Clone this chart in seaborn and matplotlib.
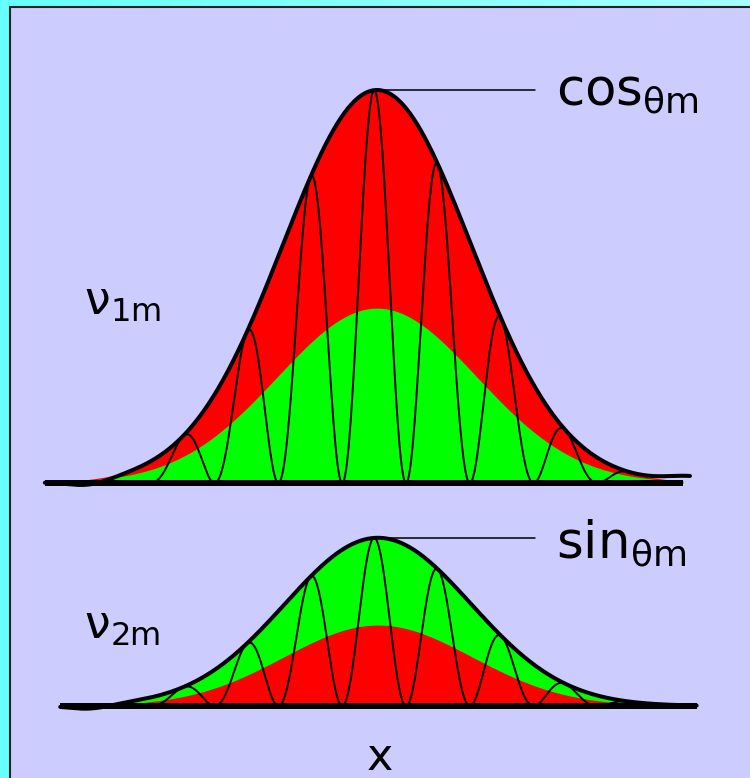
import numpy as np
import matplotlib
matplotlib.use("Agg")
import matplotlib.pyplot as plt
from matplotlib.patches import Rectangle
import seaborn as sns

# --- DATA (heights relative to the top envelope peak, x in units of envelope width) ---
outer_peak = [1.00, 0.428]      # cos(theta_m) and sin(theta_m) envelopes
inner_peak = [0.445, 0.206]     # inner envelopes
outer_width = [0.98, 0.97]
inner_width = [1.04, 0.98]
peak_pos = [0.0, 0.01]
outer_colors = ["#ff0000", "#00ff00"]
inner_colors = ["#00ff00", "#ff0000"]
line_start = [-3.46, -3.30]
line_end = [3.26, 3.33]
axis_end = [3.19, 3.33]
tail_dip = [-0.013, -0.010]     # little hand-drawn dip left of the envelope
tail_lift = [0.014, 0.0]        # and the lift on the right
osc_period = 0.665
osc_phase = -0.03
osc_start = [-2.36, -2.3]
osc_end = [2.6, 2.6]
left_labels = [r"$\nu_{\mathrm{1m}}$", r"$\nu_{\mathrm{2m}}$"]
right_labels = [r"$\mathrm{cos}_{\theta\mathrm{m}}$", r"$\mathrm{sin}_{\theta\mathrm{m}}$"]
x_label = "x"

# --- STYLE ---
sns.set_theme(style="white")
plt.rcParams["font.family"] = ["DejaVu Sans"]
plt.rcParams["mathtext.fontset"] = "dejavusans"
plt.rcParams["mathtext.default"] = "regular"
plt.rcParams["text.color"] = "black"

W, H = 750, 778
fig = plt.figure(figsize=(W / 100, H / 100), dpi=100, facecolor="#66ffff")

# background: cyan frame with a lighter top strip and the lavender panel
bg = fig.add_axes([0, 0, 1, 1], zorder=-2)
grad = np.linspace(0, 1, 256)[None, :]
bg.imshow(grad, extent=[0, 1, 0, 1], aspect="auto",
          cmap=matplotlib.colors.LinearSegmentedColormap.from_list("c", ["#66ffff", "#a8ffff"]))
bg.set_xlim(0, 1)
bg.set_ylim(0, 1)
bg.axis("off")
bg.add_patch(Rectangle((10 / W, -0.05), 1.0, (H - 7) / H + 0.05, facecolor="#ccccff",
                       edgecolor="#222222", lw=1.5, transform=bg.transAxes, zorder=2))

# two panels sharing the same scale (393 px per unit height, 96 px per unit width)
xlim = (-377 / 96, 373 / 96)
ax_top = fig.add_axes([0, 0.30341, 1, 0.60617])
ax_top.set_ylim(-0.15, 1.05)
ax_bot = fig.add_axes([0, 0.016774, 1, 0.3536])
ax_bot.set_ylim(-0.15, 0.55)

for i, ax in enumerate([ax_top, ax_bot]):
    ax.set_xlim(*xlim)
    ax.patch.set_alpha(0)
    ax.axis("off")

    x = np.linspace(line_start[i], line_end[i], 1600)
    env = outer_peak[i] * np.exp(-0.5 * ((x - peak_pos[i]) / outer_width[i]) ** 2)
    inner = inner_peak[i] * np.exp(-0.5 * ((x - peak_pos[i]) / inner_width[i]) ** 2)

    xf = x[x <= axis_end[i]]
    ax.fill_between(xf, 0, env[x <= axis_end[i]], color=outer_colors[i], lw=0, zorder=1)
    ax.fill_between(xf, 0, inner[x <= axis_end[i]], color=inner_colors[i], lw=0, zorder=1)

    # oscillating probability under the envelope
    xo = np.linspace(osc_start[i], osc_end[i], 2000)
    env_o = outer_peak[i] * np.exp(-0.5 * ((xo - peak_pos[i]) / outer_width[i]) ** 2)
    osc = env_o * np.cos(np.pi * (xo - osc_phase) / osc_period) ** 2
    sns.lineplot(x=xo, y=osc, ax=ax, color="black", lw=1.4, zorder=2)

    # envelope outline
    env_line = (env + tail_dip[i] * np.exp(-((x + 3.0) / 0.3) ** 2)
                + tail_lift[i] * np.exp(-((x - line_end[i]) / 0.35) ** 2))
    sns.lineplot(x=x, y=env_line, ax=ax, color="black", lw=2.9, zorder=3)

    # baseline
    sns.lineplot(x=[line_start[i], axis_end[i]], y=[0, 0], ax=ax, color="black",
                 lw=4.3, zorder=4, solid_capstyle="butt")

    # pointer from the peak to the label
    ax.plot([peak_pos[i], 1.646], [outer_peak[i], outer_peak[i]], color="black", lw=1.1, zorder=3)

# labels
fig.text(556 / W, (H - 105) / H, right_labels[0], fontsize=37, va="baseline", ha="left")
fig.text(556 / W, (H - 558) / H, right_labels[1], fontsize=37, va="baseline", ha="left")
fig.text(84 / W, (H - 315) / H, left_labels[0], fontsize=33, va="baseline", ha="left")
fig.text(84 / W, (H - 638) / H, left_labels[1], fontsize=33, va="baseline", ha="left")
fig.text(380 / W, (H - 758) / H, x_label, fontsize=32, va="center", ha="center")

fig.savefig("out.png", dpi=100, facecolor=fig.get_facecolor())
